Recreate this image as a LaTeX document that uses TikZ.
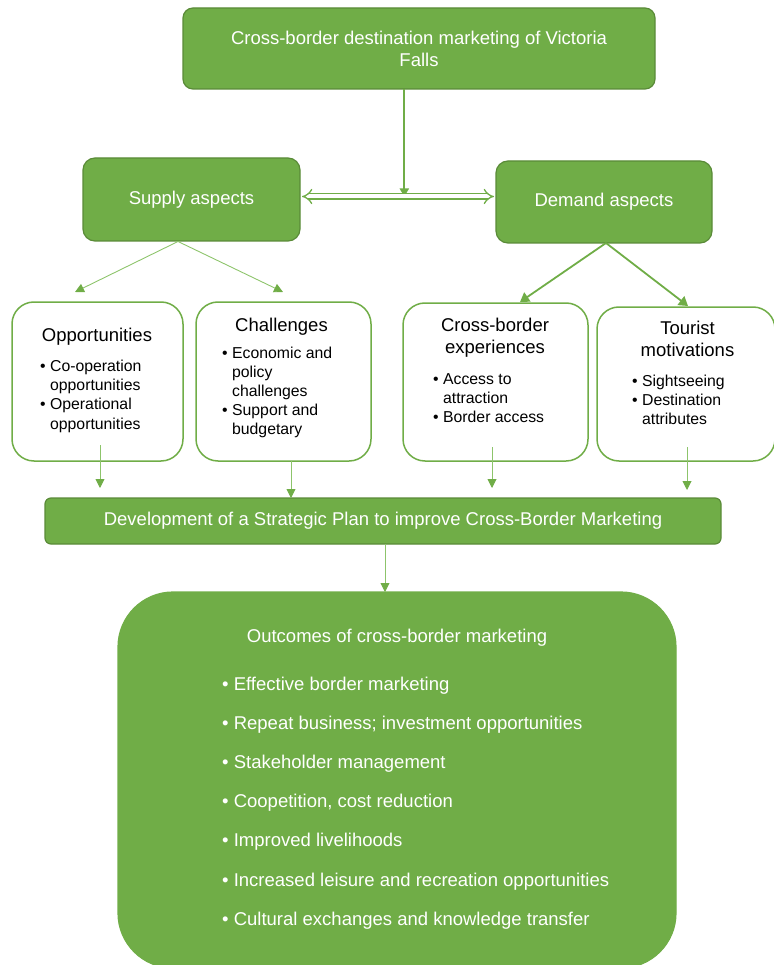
\documentclass[tikz,border=0pt]{standalone}
\usepackage{fontspec}
\setmainfont{Liberation Sans}
\usetikzlibrary{arrows.meta}
\definecolor{gfill}{HTML}{70AD47}
\definecolor{gdark}{HTML}{5A8B38}
\definecolor{glight}{HTML}{8DC46B}
\newcommand{\bigfont}{\fontsize{18.5}{22}\selectfont}
\newcommand{\listfont}{\fontsize{15.8}{19.2}\selectfont}
\newcommand{\bl}{\mbox{•\ }}
\begin{document}
\begin{tikzpicture}[x=1pt,y=-1pt,
  gbox/.style={draw=gdark, line width=1.2pt, fill=gfill, text=white, rounded corners=#1,
    inner sep=0pt, outer sep=0pt, align=center, font=\bigfont},
  gbox/.default=10pt,
  wbox/.style={draw=gfill, line width=1.5pt, fill=white, rounded corners=22pt,
    inner sep=0pt, outer sep=0pt},
  ttl/.style={inner sep=0pt, anchor=base, font=\bigfont},
  lst/.style={inner sep=0pt, anchor=base west, font=\listfont},
  thinarrow/.style={draw=glight, line width=0.9pt, -{Triangle[length=9pt,width=9pt,color=gfill]}},
  midarrow/.style={draw=gfill, line width=1.8pt, -{Triangle[length=9pt,width=11pt]}},
]
\useasboundingbox (0,0) rectangle (773,965);

% main boxes
\node[gbox, minimum width=472pt, minimum height=81pt] (top) at (419,48.5)
  {Cross-border destination marketing of Victoria\\Falls};
\node[gbox=12pt, minimum width=217pt, minimum height=83pt] (supply) at (191.5,199.5) {Supply aspects};
\node[gbox=12pt, minimum width=216pt, minimum height=82pt] (demand) at (604,202) {Demand aspects};

\node[wbox, minimum width=171pt, minimum height=159pt] (opp) at (97.5,381.5) {};
\node[wbox, minimum width=175pt, minimum height=159pt] (chal) at (283.5,381.5) {};
\node[wbox, minimum width=185pt, minimum height=158pt] (cbe) at (495.5,382) {};
\node[wbox, minimum width=178pt, minimum height=154pt] (tm) at (686,384) {};

\node[gbox=6pt, minimum width=676pt, minimum height=46pt] (plan) at (383,521)
  {Development of a Strategic Plan to improve Cross-Border Marketing};
\node[gbox=55pt, draw=gfill, minimum width=558pt, minimum height=376pt] (out) at (397,780) {};

% texts in white boxes
\node[ttl] (opptitle) at (97,341.5) {Opportunities};
\node[lst] (opplist) at (40,371.5) {\begin{tabular}[t]{@{}l@{}l@{}}\bl&Co-operation\\&opportunities\\\bl&Operational\\&opportunities\end{tabular}};

\node[ttl] (chaltitle) at (281.5,331) {Challenges};
\node[lst] (challist) at (222,358) {\begin{tabular}[t]{@{}l@{}l@{}}\bl&Economic and\\&policy\\&challenges\\\bl&Support and\\&budgetary\end{tabular}};

\node[ttl] (cbetitle) at (495,331) {\begin{tabular}[t]{@{}c@{}}Cross-border\\experiences\end{tabular}};
\node[lst] (cbelist) at (433,384) {\begin{tabular}[t]{@{}l@{}l@{}}\bl&Access to\\&attraction\\\bl&Border access\end{tabular}};

\node[ttl] (tmtitle) at (687.5,334) {\begin{tabular}[t]{@{}c@{}}Tourist\\motivations\end{tabular}};
\node[lst] (tmlist) at (632,386.5) {\begin{tabular}[t]{@{}l@{}l@{}}\bl&Sightseeing\\\bl&Destination\\&attributes\end{tabular}};

% outcomes texts
\node[ttl, text=white] (outtitle) at (397,642) {Outcomes of cross-border marketing};
\node[inner sep=0pt, anchor=base west, text=white, font=\fontsize{18.5}{39.2}\selectfont] (outlist) at (222,690)
  {\begin{tabular}[t]{@{}l@{}l@{}}
  \bl&Effective border marketing\\
  \bl&Repeat business; investment opportunities\\
  \bl&Stakeholder management\\
  \bl&Coopetition, cost reduction\\
  \bl&Improved livelihoods\\
  \bl&Increased leisure and recreation opportunities\\
  \bl&Cultural exchanges and knowledge transfer
  \end{tabular}};

% connectors
\coordinate (dbl) at (404.3,196.5);
\draw[draw=gfill, line width=2pt, -{Triangle[length=8pt,width=9pt]}] (top.south -| dbl) -- (dbl);
\draw[draw=gfill, double=white, double distance=4pt, line width=1.3pt, {Implies}-{Implies}]
  ([xshift=2pt]supply.east |- dbl) -- ([xshift=-2pt]demand.west |- dbl);

\coordinate (sfork) at (178,241.5);
\coordinate (sa1) at (75,292);
\coordinate (sa2) at (283,292);
\draw[thinarrow] (sfork) -- (sa1);
\draw[thinarrow] (sfork) -- (sa2);

\coordinate (dfork) at (606,243);
\coordinate (da1) at (520,302);
\coordinate (da2) at (688,306);
\draw[midarrow] (dfork) -- (da1);
\draw[midarrow] (dfork) -- (da2);

\coordinate (o1) at (100,445);
\coordinate (o2) at (100,488);
\draw[thinarrow] (o1) -- (o2);
\coordinate (ch) at (291,0);
\draw[thinarrow] (chal.south -| ch) -- (plan.north -| ch);
\coordinate (e1) at (492,447);
\coordinate (e2) at (492,488);
\draw[thinarrow] (e1) -- (e2);
\coordinate (t1) at (687,447);
\coordinate (t2) at (687,490);
\draw[thinarrow] (t1) -- (t2);
\coordinate (pl) at (385,0);
\draw[thinarrow] (plan.south -| pl) -- (out.north -| pl);
\end{tikzpicture}
\end{document}
